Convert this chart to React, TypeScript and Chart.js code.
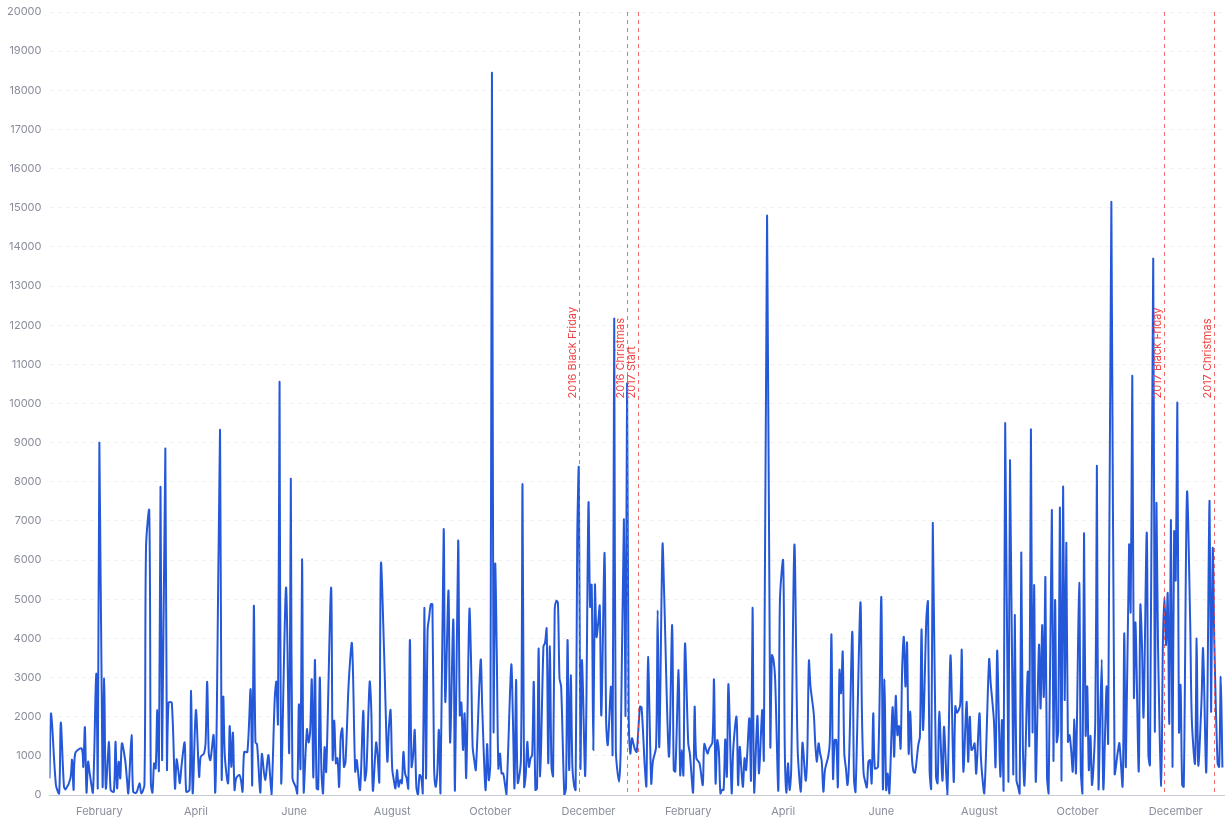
import { useEffect, useRef } from "react";
import { Chart, registerables } from "chart.js";

Chart.register(...registerables);

// Daily order counts, [day index since 2016-01-01, value]
const sales2016H1: [number, number][] = [
  [0, 425], [1, 2085], [4, 255], [6, 40], [7, 1850], [9, 210], [10, 145], [13, 425], [14, 900], [15, 130], [16, 1065],
  [20, 1190], [21, 720], [22, 1730], [23, 60], [24, 850], [25, 550], [27, 60], [29, 3100], [30, 170], [31, 9000],
  [33, 210], [34, 2980], [35, 170], [37, 1360], [38, 130], [40, 85], [41, 1360], [42, 170], [43, 850], [44, 425],
  [45, 1320], [47, 900], [48, 470], [49, 40], [51, 1530], [52, 85], [54, 60], [56, 300], [57, 40], [59, 255],
  [60, 6340], [62, 7260], [63, 300], [64, 60], [65, 810], [66, 680], [67, 2170], [68, 640], [69, 7870], [70, 890],
  [72, 8850], [73, 680], [74, 2360], [76, 2360], [78, 170], [79, 910], [80, 640], [81, 300], [82, 720], [84, 1340],
  [85, 85], [87, 130], [88, 2660], [89, 40], [91, 2170], [93, 470], [94, 980], [96, 1060], [97, 1320], [98, 2890],
  [99, 1060], [100, 890], [102, 1530], [103, 60], [104, 2085], [106, 9320], [107, 425], [108, 2510], [109, 980],
  [111, 300], [112, 1760], [113, 720], [114, 1590], [115, 130], [116, 425], [118, 510], [119, 380], [120, 85],
  [121, 1100], [123, 1100], [125, 2700], [126, 255], [127, 4830], [128, 1340], [129, 1300], [131, 60], [132, 1050],
  [134, 380], [136, 1020], [137, 550], [138, 0], [140, 2470], [141, 2890], [142, 1830], [143, 10550], [144, 300],
  [147, 5300], [149, 1080], [150, 8080], [151, 425], [153, 210], [154, 40], [155, 2315], [156, 680], [157, 6020],
  [158, 60], [160, 1680], [161, 1340], [162, 1620], [163, 2950], [164, 450], [165, 3450], [166, 170], [167, 145],
  [168, 3000], [169, 640], [170, 40], [171, 1220], [172, 600], [175, 5300], [176, 910], [177, 1900], [178, 810],
  [179, 940], [180, 210], [181, 1490],
];

const sales2016H2: [number, number][] = [
  [182, 1700], [183, 720], [184, 850], [186, 2890], [188, 3870], [190, 600], [191, 890], [193, 130], [195, 2150],
  [196, 380], [197, 640], [199, 2890], [200, 2170], [201, 110], [203, 1340], [204, 980], [205, 340], [206, 5910],
  [208, 3600], [209, 2085], [210, 850], [211, 1760], [212, 2170], [213, 680], [214, 380], [215, 170], [216, 640],
  [217, 210], [218, 380], [219, 300], [220, 1100], [221, 550], [222, 425], [223, 170], [224, 3960], [225, 720],
  [226, 1000], [227, 1660], [228, 210], [229, 0], [230, 510], [231, 470], [232, 40], [233, 4780], [234, 425],
  [235, 4210], [236, 4550], [237, 4870], [238, 4870], [239, 765], [240, 210], [241, 550], [242, 1660], [243, 40],
  [245, 6780], [246, 2380], [248, 5220], [249, 1340], [251, 4480], [252, 110], [254, 6490], [255, 2040], [256, 2360],
  [257, 1150], [258, 2085], [259, 450], [261, 4740], [262, 3450], [263, 1230], [264, 890], [265, 640], [268, 3450],
  [269, 2170], [271, 130], [272, 1300], [273, 380], [274, 810], [275, 18450], [276, 1680], [277, 5900], [278, 3600],
  [279, 680], [280, 1060], [281, 550], [282, 550], [283, 300], [284, 0], [287, 3320], [288, 2000], [289, 170],
  [290, 2940], [291, 315], [293, 890], [294, 7940], [295, 210], [296, 510], [297, 1360], [298, 720], [299, 940],
  [300, 1020], [301, 2890], [302, 130], [303, 170], [304, 3740], [305, 470], [307, 3790], [308, 3890], [309, 4250],
  [310, 810], [311, 3800], [312, 720], [313, 485], [314, 4740], [315, 4960], [316, 4910], [317, 2980], [318, 2770],
  [320, 0], [321, 170], [322, 3960], [323, 640], [324, 3060], [325, 720], [326, 255], [327, 130], [328, 6500],
  [329, 8340], [330, 700], [331, 3450], [333, 510], [335, 7450], [336, 4810], [337, 5360], [338, 1150], [339, 5360],
  [340, 4040], [341, 4380], [342, 4830], [343, 2040], [345, 6190], [346, 1830], [347, 1280], [349, 2770], [350, 1060],
  [351, 12170], [352, 1150], [354, 340], [355, 1150], [357, 7040], [358, 2040], [359, 10510], [360, 2085], [361, 1060],
  [362, 1450], [363, 1300], [364, 1150], [365, 1100],
];

const sales2017H1: [number, number][] = [
  [367, 2255], [368, 2240], [370, 720], [371, 230], [372, 3530], [374, 300], [375, 850], [377, 1230], [378, 4720],
  [379, 1230], [381, 6400], [382, 5200], [385, 980], [387, 4340], [388, 640], [389, 600], [391, 3190], [392, 510],
  [393, 1150], [394, 510], [395, 3870], [397, 1320], [398, 1060], [400, 60], [401, 2255], [402, 940], [404, 810],
  [406, 255], [407, 1300], [409, 1060], [410, 1190], [412, 1340], [413, 2950], [414, 300], [415, 1400], [416, 1150],
  [417, 40], [418, 130], [419, 130], [420, 1420], [421, 470], [422, 2830], [424, 40], [425, 1190], [427, 2000],
  [428, 255], [429, 1230], [430, 680], [431, 210], [432, 940], [433, 640], [435, 1960], [436, 380], [437, 4780],
  [438, 60], [440, 2020], [441, 550], [443, 2170], [444, 910], [446, 14800], [448, 1280], [449, 3570], [450, 3450],
  [451, 2980], [453, 110], [454, 4980], [456, 5980], [457, 1230], [458, 60], [459, 810], [460, 130], [461, 640],
  [463, 6400], [465, 1200], [467, 85], [468, 1340], [470, 365], [471, 1060], [472, 3430], [473, 2770], [475, 2085],
  [476, 1280], [477, 850], [478, 1320], [479, 1060], [480, 850], [481, 85], [482, 640], [484, 980], [485, 1360],
  [486, 4100], [487, 425], [488, 1400], [489, 1400], [490, 210], [491, 3190], [492, 2600], [493, 3660], [494, 1060],
  [495, 680], [496, 255], [497, 940], [499, 4170], [500, 425], [501, 85], [504, 4910], [505, 2000], [506, 550],
  [507, 340], [508, 195], [509, 850], [510, 890], [511, 300], [512, 2085], [513, 680], [515, 720], [517, 5060],
  [518, 145], [519, 2950], [520, 130], [521, 550], [522, 40], [524, 2240], [525, 980], [526, 2530], [527, 1530],
  [528, 1760], [529, 1190], [530, 3280], [531, 4040], [532, 2770], [533, 3890], [534, 1060], [535, 2130], [536, 980],
  [537, 600], [538, 570], [540, 1280], [541, 1490], [542, 4230], [543, 1660], [545, 4510], [546, 4940],
];

const sales2017H2: [number, number][] = [
  [547, 640], [548, 170], [549, 6950], [551, 470], [552, 300], [553, 2130], [555, 365], [556, 1745], [558, 0],
  [560, 3570], [562, 340], [563, 2270], [564, 2100], [566, 2300], [567, 3700], [568, 600], [570, 2380], [571, 850],
  [572, 2000], [573, 1150], [574, 1190], [575, 1320], [576, 550], [578, 2085], [579, 890], [581, 40], [584, 3460],
  [585, 2850], [587, 1900], [588, 720], [589, 3680], [590, 2040], [591, 470], [592, 1915], [593, 110], [594, 9500],
  [596, 340], [597, 8550], [599, 550], [600, 4600], [601, 380], [602, 210], [603, 40], [604, 6190], [605, 1230],
  [606, 255], [608, 3150], [609, 1280], [610, 9340], [611, 1620], [612, 5360], [613, 340], [615, 3830], [616, 2210],
  [617, 4340], [618, 2510], [619, 5560], [620, 470], [621, 40], [623, 7280], [624, 880], [625, 4980], [626, 1360],
  [627, 1660], [628, 7340], [629, 365], [630, 7870], [631, 2430], [632, 6440], [633, 1360], [634, 1530], [635, 1150],
  [636, 600], [637, 1930], [638, 570], [640, 5420], [641, 640], [642, 40], [643, 6680], [644, 1530], [645, 2770],
  [646, 640], [647, 1510], [648, 255], [650, 1900], [651, 8400], [652, 145], [654, 3460], [655, 145], [657, 2770],
  [658, 1340], [660, 15150], [662, 550], [664, 1100], [665, 1320], [667, 230], [668, 4130], [669, 720], [671, 6380],
  [672, 4680], [673, 10700], [674, 2510], [675, 4400], [677, 600], [678, 4850], [679, 3870], [680, 2000], [682, 6700],
  [683, 1020], [684, 765], [686, 13700], [687, 1660], [688, 7450], [689, 3800], [691, 230], [692, 3830], [693, 5060],
  [694, 3830], [695, 5150], [696, 1830], [697, 7020], [698, 720], [699, 6720], [700, 5490], [701, 10000], [702, 1620],
  [703, 2810], [704, 255], [705, 210], [707, 7720], [709, 4380], [710, 1915], [712, 810], [713, 4000], [714, 765],
  [716, 2380], [717, 3740], [719, 600], [721, 7510], [722, 2130], [723, 6300], [724, 3870], [726, 810], [727, 720],
  [728, 3020], [729, 700],
];

const tickDates = [
  "2016-02-01", "2016-04-01", "2016-06-01", "2016-08-01", "2016-10-01", "2016-12-01",
  "2017-02-01", "2017-04-01", "2017-06-01", "2017-08-01", "2017-10-01", "2017-12-01",
];
const monthNames = [
  "January", "February", "March", "April", "May", "June",
  "July", "August", "September", "October", "November", "December",
];

const eventDates = ["2016-11-25", "2016-12-25", "2017-01-01", "2017-11-24", "2017-12-25"];
const eventLabels = ["2016 Black Friday", "2016 Christmas", "2017 Start", "2017 Black Friday", "2017 Christmas"];

const yTicks = { min: 0, max: 20000, step: 1000 };
const rangeStart = "2016-01-01";
const rangeEnd = "2017-12-31";

const START = Date.UTC(2016, 0, 1);
const DAY_MS = 86400000;
function dayOf(iso: string): number {
  const [y, m, d] = iso.split("-").map(Number);
  return Math.round((Date.UTC(y, m - 1, d) - START) / DAY_MS);
}

const FONT = "Inter, 'Noto Sans', 'DejaVu Sans', sans-serif";
const TICK_COLOR = "#8a8e9c";
const LINE_COLOR = "#2558d9";
const EVENT_COLOR = "rgba(236, 72, 72, 0.8)";

const eventPlugin = {
  id: "eventLines",
  afterDatasetsDraw(chart: any) {
    const { ctx, chartArea, scales } = chart;
    ctx.save();
    eventDates.forEach((d, i) => {
      const x = Math.round(scales.x.getPixelForValue(dayOf(d))) + 0.5;
      ctx.strokeStyle = EVENT_COLOR;
      ctx.lineWidth = 1;
      ctx.setLineDash([4, 4]);
      ctx.beginPath();
      ctx.moveTo(x, chartArea.top);
      ctx.lineTo(x, chartArea.bottom);
      ctx.stroke();
      ctx.setLineDash([]);
      const yStart = chartArea.top + (chartArea.bottom - chartArea.top) / 2 - 5;
      ctx.save();
      ctx.translate(x - 1, yStart);
      ctx.rotate(-Math.PI / 2);
      ctx.fillStyle = "#ef4444";
      ctx.font = `11px ${FONT}`;
      ctx.textAlign = "left";
      ctx.textBaseline = "bottom";
      ctx.fillText(eventLabels[i], 0, 0);
      ctx.restore();
    });
    ctx.restore();
  },
};

export default function App() {
  const canvasRef = useRef<HTMLCanvasElement | null>(null);

  useEffect(() => {
    if (!canvasRef.current) return;
    const points = [...sales2016H1, ...sales2016H2, ...sales2017H1, ...sales2017H2].map(([x, y]) => ({ x, y }));
    const tickDays = tickDates.map(dayOf);
    const tickLabels = tickDates.map((d) => monthNames[Number(d.split("-")[1]) - 1]);

    const chart = new Chart(canvasRef.current, {
      type: "line",
      data: {
        datasets: [
          {
            label: "Orders",
            data: points,
            borderColor: LINE_COLOR,
            backgroundColor: LINE_COLOR,
            borderWidth: 2,
            pointRadius: 0,
            tension: 0.3,
            fill: false,
          },
        ],
      },
      options: {
        animation: false,
        responsive: false,
        devicePixelRatio: 1,
        events: [],
        layout: { padding: { top: 12, right: 7, left: 0, bottom: 0 } },
        plugins: { legend: { display: false }, tooltip: { enabled: false } },
        scales: {
          x: {
            type: "linear",
            min: dayOf(rangeStart),
            max: dayOf(rangeEnd),
            afterBuildTicks: (scale: any) => {
              scale.ticks = tickDays.map((v) => ({ value: v }));
            },
            afterFit: (scale: any) => {
              scale.height = 26;
              scale.paddingLeft = 0;
              scale.paddingRight = 0;
            },
            ticks: {
              autoSkip: false,
              maxRotation: 0,
              padding: 10,
              color: TICK_COLOR,
              font: { family: FONT, size: 11 },
              callback: (_v: any, i: number) => tickLabels[i],
            },
            grid: { color: "transparent", drawTicks: false },
            border: { display: true, color: "#c8ccd6", width: 1 },
          },
          y: {
            min: yTicks.min,
            max: yTicks.max,
            afterFit: (scale: any) => {
              scale.width = 49.5;
              scale.paddingTop = 0;
              scale.paddingBottom = 0;
            },
            ticks: {
              stepSize: yTicks.step,
              padding: 8,
              color: TICK_COLOR,
              font: { family: FONT, size: 11 },
              callback: (v: any) => String(v),
            },
            grid: { color: "rgba(0,0,0,0.06)", drawTicks: false },
            border: { display: false, dash: [4, 4] },
          },
        },
      },
      plugins: [eventPlugin],
    });
    return () => chart.destroy();
  }, []);

  return (
    <div style={{ position: "absolute", left: 0, top: 0, width: 1231, height: 821, background: "#fff" }}>
      <canvas ref={canvasRef} width={1231} height={821} />
    </div>
  );
}
